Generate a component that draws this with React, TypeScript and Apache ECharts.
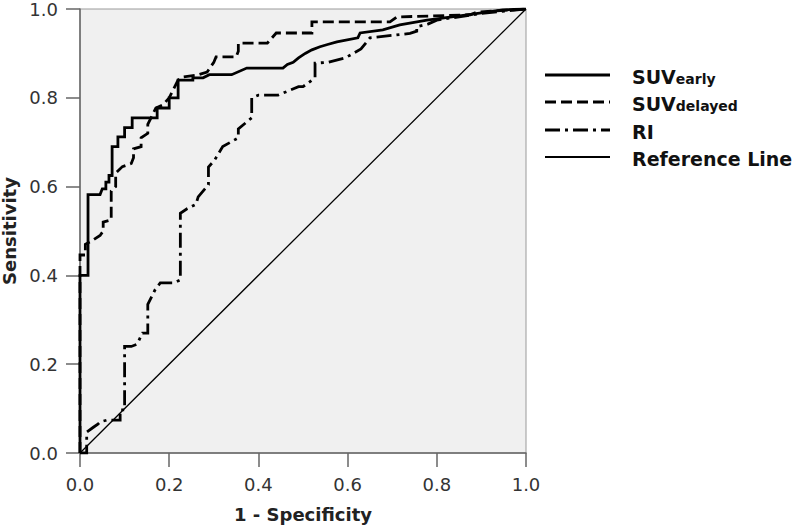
import React, { useEffect, useRef } from "react";
import * as echarts from "echarts";

// ROC curve points: [1 - Specificity, Sensitivity]
const SUV_EARLY: [number, number][] = [
  [0, 0], [0, 0.40], [0.018, 0.40], [0.018, 0.582], [0.045, 0.582], [0.05, 0.595],
  [0.058, 0.595], [0.058, 0.61], [0.065, 0.61], [0.065, 0.625], [0.072, 0.625],
  [0.072, 0.69], [0.085, 0.69], [0.085, 0.712], [0.10, 0.712], [0.10, 0.733],
  [0.117, 0.733], [0.117, 0.755], [0.173, 0.755], [0.173, 0.777], [0.20, 0.777],
  [0.20, 0.80], [0.22, 0.80], [0.22, 0.84], [0.253, 0.84], [0.253, 0.845],
  [0.276, 0.845], [0.29, 0.852], [0.34, 0.852], [0.374, 0.867], [0.455, 0.867],
  [0.465, 0.875], [0.478, 0.88], [0.49, 0.89], [0.505, 0.90], [0.52, 0.908],
  [0.538, 0.915], [0.555, 0.92], [0.576, 0.926], [0.623, 0.935], [0.628, 0.946],
  [0.679, 0.953], [0.717, 0.964], [0.778, 0.975], [0.868, 0.987], [0.948, 0.998], [1, 1],
];

const SUV_DELAYED: [number, number][] = [
  [0, 0], [0, 0.446], [0.012, 0.446], [0.012, 0.47], [0.03, 0.48], [0.045, 0.49],
  [0.052, 0.50], [0.052, 0.52], [0.07, 0.525], [0.07, 0.59], [0.08, 0.60], [0.08, 0.63],
  [0.095, 0.645], [0.115, 0.652], [0.12, 0.665], [0.12, 0.685], [0.137, 0.69],
  [0.137, 0.71], [0.152, 0.72], [0.152, 0.74], [0.17, 0.777], [0.186, 0.784],
  [0.20, 0.80], [0.22, 0.84], [0.23, 0.847], [0.262, 0.851], [0.285, 0.858],
  [0.30, 0.88], [0.305, 0.892], [0.35, 0.892], [0.355, 0.905], [0.355, 0.923],
  [0.42, 0.923], [0.44, 0.946], [0.52, 0.946], [0.52, 0.971], [0.695, 0.971],
  [0.71, 0.982], [0.875, 0.987], [0.89, 0.993], [1, 1],
];

const RI: [number, number][] = [
  [0, 0], [0.015, 0], [0.015, 0.047], [0.03, 0.058], [0.04, 0.065], [0.045, 0.07],
  [0.06, 0.074], [0.09, 0.074], [0.09, 0.097], [0.10, 0.097], [0.10, 0.24],
  [0.115, 0.24], [0.128, 0.245], [0.14, 0.27], [0.152, 0.27], [0.152, 0.335],
  [0.168, 0.367], [0.18, 0.383], [0.21, 0.383], [0.225, 0.39], [0.225, 0.54],
  [0.24, 0.55], [0.26, 0.56], [0.265, 0.577], [0.288, 0.604], [0.288, 0.644],
  [0.302, 0.66], [0.32, 0.69], [0.355, 0.71], [0.355, 0.73], [0.385, 0.755],
  [0.385, 0.80], [0.40, 0.806], [0.444, 0.806], [0.49, 0.825], [0.50, 0.825],
  [0.527, 0.845], [0.527, 0.878], [0.556, 0.88], [0.595, 0.89], [0.63, 0.91],
  [0.65, 0.935], [0.74, 0.945], [0.755, 0.95], [0.755, 0.96], [0.78, 0.966],
  [0.80, 0.975], [0.90, 0.99], [1, 1],
];

const REFERENCE: [number, number][] = [[0, 0], [1, 1]];

const SERIES_NAMES = ["SUVearly", "SUVdelayed", "RI", "Reference Line"];
const LEGEND_MAIN = ["SUV", "SUV", "RI", "Reference Line"];
const LEGEND_SUB = ["early", "delayed", "", ""];
const AXIS_MIN = 0;
const AXIS_MAX = 1;
const AXIS_STEP = 0.2;
const X_TITLE = "1 - Specificity";
const Y_TITLE = "Sensitivity";

const DASHES: (number[] | "solid")[] = ["solid", [11, 5], [15, 5, 3, 5], "solid"];
const WIDTHS = [2.8, 2.8, 2.8, 1.3];

export default function App() {
  const ref = useRef<HTMLDivElement>(null);

  useEffect(() => {
    if (!ref.current) return;
    const chart = echarts.init(ref.current, null, { renderer: "svg" });

    const axisColor = "#666";
    const labelStyle = {
      fontFamily: "DejaVu Sans",
      fontSize: 18,
      color: "#333",
    };
    const nameStyle = {
      fontFamily: "DejaVu Sans",
      fontSize: 18,
      fontWeight: "bold" as const,
      color: "#222",
    };

    const seriesData = [SUV_EARLY, SUV_DELAYED, RI, REFERENCE];
    const order = [3, 2, 1, 0];

    const legendRowsY = [75, 102, 130, 157];
    const legendGraphics: any[] = [];
    SERIES_NAMES.forEach((name, i) => {
      const y = legendRowsY[i];
      const dash = DASHES[i];
      legendGraphics.push({
        type: "line",
        shape: { x1: 545, y1: y, x2: 610, y2: y },
        style: {
          stroke: "#000",
          lineWidth: i === 3 ? 2 : 2.8,
          lineDash: dash === "solid" ? null : dash,
        },
        silent: true,
      });
      const sub = LEGEND_SUB[i];
      legendGraphics.push({
        type: "text",
        x: 632,
        y: y,
        style: {
          text: sub ? `{a|${LEGEND_MAIN[i]}}{b|${sub}}` : `{a|${LEGEND_MAIN[i]}}`,
          verticalAlign: "middle",
          align: "left",
          rich: {
            a: {
              fontFamily: "DejaVu Sans",
              fontSize: 19,
              fontWeight: "bold",
              fill: "#111",
              verticalAlign: "bottom",
              lineHeight: 22,
            },
            b: {
              fontFamily: "DejaVu Sans",
              fontSize: 14,
              fontWeight: "bold",
              fill: "#111",
              verticalAlign: "bottom",
              lineHeight: 22,
              padding: [4, 0, 0, 0],
            },
          },
        },
        silent: true,
      });
    });

    chart.setOption({
      animation: false,
      backgroundColor: "#ffffff",
      grid: {
        left: 80,
        top: 9,
        width: 446,
        height: 444,
        show: true,
        backgroundColor: "#f0f0f0",
        borderColor: "#9a9a9a",
        borderWidth: 1,
        containLabel: false,
        outerBoundsMode: "none",
      },
      xAxis: {
        type: "value",
        min: AXIS_MIN,
        max: AXIS_MAX,
        interval: AXIS_STEP,
        name: X_TITLE,
        nameLocation: "middle",
        nameGap: 52,
        nameTextStyle: nameStyle,
        axisLine: { show: true, onZero: false, lineStyle: { color: axisColor, width: 1.5 } },
        axisTick: { show: true, inside: false, length: 14, lineStyle: { color: axisColor, width: 1.5 } },
        axisLabel: {
          ...labelStyle,
          margin: 22,
          showMinLabel: true,
          showMaxLabel: true,
          formatter: (v: number) => v.toFixed(1),
        },
        splitLine: { show: false },
      },
      yAxis: {
        type: "value",
        min: AXIS_MIN,
        max: AXIS_MAX,
        interval: AXIS_STEP,
        name: Y_TITLE,
        nameLocation: "middle",
        nameGap: 58,
        nameRotate: 90,
        nameTextStyle: nameStyle,
        axisLine: { show: true, onZero: false, lineStyle: { color: axisColor, width: 1.5 } },
        axisTick: { show: true, inside: false, length: 14, lineStyle: { color: axisColor, width: 1.5 } },
        axisLabel: {
          ...labelStyle,
          margin: 22,
          showMinLabel: true,
          showMaxLabel: true,
          formatter: (v: number) => v.toFixed(1),
        },
        splitLine: { show: false },
      },
      series: order.map((i) => {
        const dash = DASHES[i];
        return {
          name: SERIES_NAMES[i],
          type: "line",
          data: seriesData[i],
          showSymbol: false,
          symbol: "none",
          clip: true,
          z: 2 + (3 - i),
          lineStyle: {
            color: "#000",
            width: WIDTHS[i],
            type: dash,
            cap: "butt",
            join: "miter",
          },
        };
      }),
      graphic: legendGraphics,
    });

    return () => {
      chart.dispose();
    };
  }, []);

  return (
    <div
      ref={ref}
      style={{ position: "absolute", left: 0, top: 0, width: 793, height: 526 }}
    />
  );
}
